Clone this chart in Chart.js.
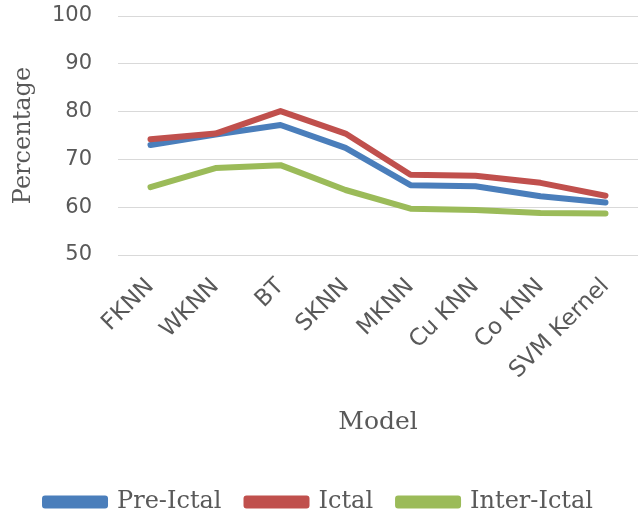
<!DOCTYPE html>
<html>
<head>
<meta charset="utf-8">
<script src="https://cdn.jsdelivr.net/npm/chart.js@4/dist/chart.umd.min.js"></script>
<style>
  html, body { margin: 0; padding: 0; background: #ffffff; }
  #wrap { width: 638px; height: 519px; position: relative; }
</style>
</head>
<body>
<div id="wrap"><canvas id="c"></canvas></div>
<script>
const categories = ["FKNN", "WKNN", "BT", "SKNN", "MKNN", "Cu KNN", "Co KNN", "SVM Kernel"];
const preIctal   = [73.0, 75.2, 77.2, 72.4, 64.6, 64.4, 62.3, 61.0];
const ictal      = [74.2, 75.4, 80.1, 75.4, 66.8, 66.6, 65.1, 62.4];
const interIctal = [64.2, 68.2, 68.8, 63.6, 59.7, 59.4, 58.8, 58.7];
const yTicks = [50, 60, 70, 80, 90, 100];

const grey = '#595959';

new Chart(document.getElementById('c'), {
  type: 'line',
  data: {
    labels: categories,
    datasets: [
      { label: 'Pre-Ictal', data: preIctal, borderColor: '#4A7EBB', backgroundColor: '#4A7EBB', order: 3 },
      { label: 'Ictal', data: ictal, borderColor: '#C0504D', backgroundColor: '#C0504D', order: 2 },
      { label: 'Inter-Ictal', data: interIctal, borderColor: '#9BBB59', backgroundColor: '#9BBB59', order: 1 }
    ]
  },
  options: {
    responsive: true,
    maintainAspectRatio: false,
    animation: false,
    devicePixelRatio: 1,
    elements: {
      line: { borderWidth: 6, tension: 0, borderCapStyle: 'round', borderJoinStyle: 'round', fill: false },
      point: { radius: 0, hoverRadius: 0 }
    },
    layout: { padding: { top: 16, left: 0, right: 0, bottom: -5 } },
    plugins: {
      tooltip: { enabled: false },
      legend: {
        position: 'bottom',
        labels: {
          boxWidth: 60,
          boxHeight: 7,
          padding: 25,
          color: grey,
          font: { family: 'DejaVu Serif', size: 24 },
          sort: (a, b) => a.datasetIndex - b.datasetIndex
        }
      }
    },
    scales: {
      x: {
        offset: true,
        grid: { display: false, drawTicks: false },
        border: { display: false },
        ticks: {
          color: grey,
          font: { family: 'DejaVu Sans', size: 23 },
          minRotation: 45,
          maxRotation: 45,
          padding: 18,
          autoSkip: false
        },
        title: {
          display: true,
          text: 'Model',
          color: grey,
          font: { family: 'DejaVu Serif', size: 25 },
          padding: { top: 0, bottom: 28 }
        },
        afterFit: (s) => { s.height = 210; s.paddingLeft = 0; s.paddingRight = 0; }
      },
      y: {
        min: yTicks[0],
        max: yTicks[yTicks.length - 1],
        afterBuildTicks: (s) => { s.ticks = yTicks.map(v => ({ value: v })); },
        grid: { color: '#D9D9D9', lineWidth: 1, drawTicks: false },
        border: { display: false },
        ticks: {
          color: grey,
          font: { family: 'DejaVu Sans', size: 21 },
          padding: 26
        },
        title: {
          display: true,
          text: 'Percentage',
          color: grey,
          font: { family: 'DejaVu Serif', size: 24 },
          padding: { top: 9, bottom: 0 }
        },
        afterFit: (s) => { s.width = 118; s.paddingTop = 0; s.paddingBottom = 0; }
      }
    }
  }
});
</script>
</body>
</html>
